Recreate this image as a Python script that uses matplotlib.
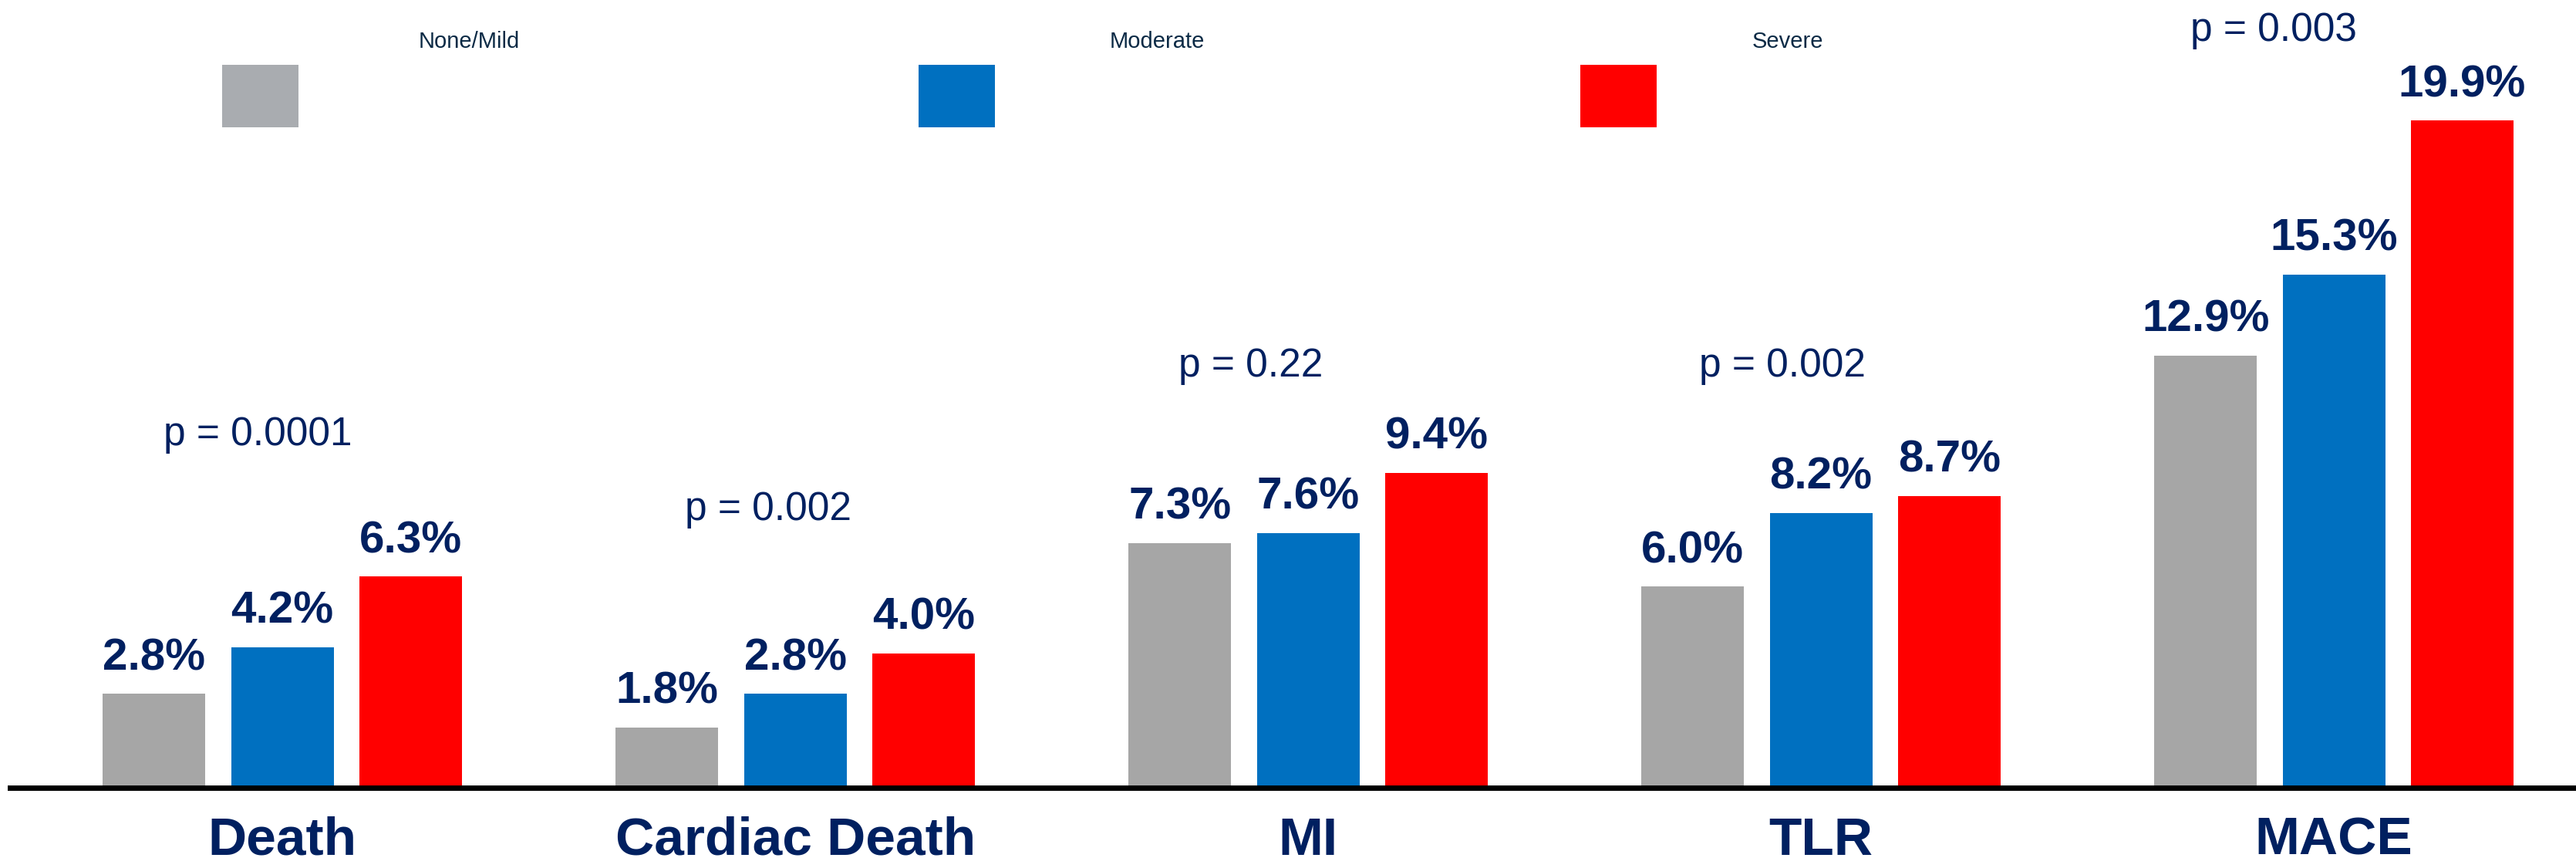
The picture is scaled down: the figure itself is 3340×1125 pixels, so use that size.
import matplotlib
matplotlib.use("Agg")
import matplotlib.pyplot as plt
from matplotlib.patches import Rectangle
import numpy as np

# ---- data ----
categories = ["Death", "Cardiac Death", "MI", "TLR", "MACE"]
series_names = ["None/Mild", "Moderate", "Severe"]
none_mild = [2.8, 1.8, 7.3, 6.0, 12.9]
moderate = [4.2, 2.8, 7.6, 8.2, 15.3]
severe = [6.3, 4.0, 9.4, 8.7, 19.9]
p_values = ["p = 0.0001", "p = 0.002", "p = 0.22", "p = 0.002", "p = 0.003"]

# ---- style ----
bar_colors = ["#A6A6A6", "#0070C0", "#FF0000"]
legend_colors = ["#A9ACB0", "#0070C0", "#FF0000"]
navy = "#002060"
legend_text_color = "#0B2A45"
font = "Liberation Sans"

W, H = 3340, 1125
fig = plt.figure(figsize=(W / 100, H / 100), dpi=100)
base_px = 1021
ax = fig.add_axes([13 / W, (H - base_px) / H, 1 - 13 / W, base_px / H])

x = np.arange(len(categories))
offsets = [-0.25, 0.0, 0.25]
width = 0.2
for vals, off, col in zip([none_mild, moderate, severe], offsets, bar_colors):
    bars = ax.bar(x + off, vals, width=width, color=col, zorder=2)
    for b, v in zip(bars, vals):
        ax.text(b.get_x() + b.get_width() / 2, v + 0.72, f"{v:.1f}%",
                ha="center", va="baseline", fontsize=42, fontweight="bold",
                color=navy, family=font)

ax.set_xlim(-0.531, 4.472)
ax.set_ylim(0, 23.5)
for s in ["top", "right", "left"]:
    ax.spines[s].set_visible(False)
ax.spines["bottom"].set_linewidth(5)
ax.spines["bottom"].set_color("black")
ax.spines["bottom"].set_zorder(3)
ax.set_yticks([])
ax.set_xticks([])

# category labels
label_base_px = 1108
for xi, c in zip(x, categories):
    ax.text(xi, -(label_base_px - base_px) / base_px, c,
            transform=ax.get_xaxis_transform(), ha="center",
            va="baseline", fontsize=50, fontweight="bold", color=navy,
            family=font, clip_on=False)

# p-values
p_pos = [(-0.048, 10.22), (0.947, 7.98), (1.888, 12.27), (2.925, 12.27), (3.882, 22.28)]
for (px, py), p in zip(p_pos, p_values):
    ax.text(px, py, p, ha="center", va="baseline", fontsize=37, color=navy,
            family=font)

# legend (manual)
sw_left = [288, 1191, 2049]
lab_cx = [608, 1500, 2318]
for l, cx, col, name in zip(sw_left, lab_cx, legend_colors, series_names):
    fig.add_artist(Rectangle((l / W, 1 - 165 / H), 99 / W, 81 / H,
                             transform=fig.transFigure, color=col, lw=0))
    fig.text(cx / W, 1 - 62 / H, name, ha="center", va="baseline",
             fontsize=21, color=legend_text_color, family=font)

fig.savefig("out.png", dpi=100, facecolor="white")
